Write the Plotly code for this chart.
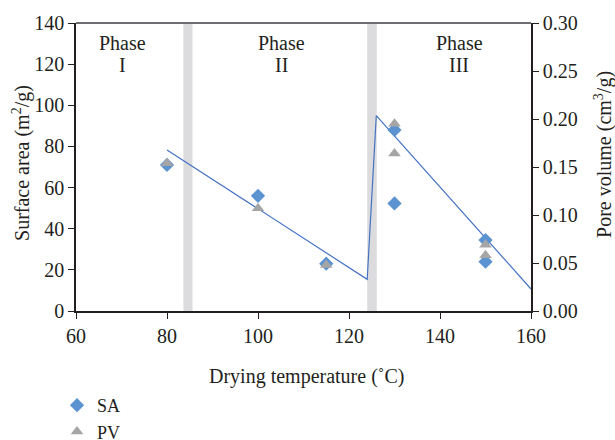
import plotly.graph_objects as go

# Data
sa_x = [80, 100, 115, 130, 130, 150, 150]
sa_y = [71, 56, 23, 52.3, 88, 34.5, 24]
pv_x = [80, 100, 115, 130, 130, 150, 150]
pv_y = [0.154, 0.107, 0.048, 0.195, 0.164, 0.069, 0.058]
trend_x = [80, 124, 126, 160]
trend_y = [78.3, 15.4, 95, 10.7]
band_ranges = [(83.6, 85.6), (124.0, 126.1)]
phase_numerals = ["I", "II", "III"]
phase_x = [70.3, 105.2, 144.2]

FONT = "Liberation Serif"
TXT = "#231f20"
FS = 20

fig = go.Figure()
fig.add_trace(go.Scatter(x=trend_x, y=trend_y, mode="lines",
                         line=dict(color="#4472c4", width=1.2),
                         showlegend=False, hoverinfo="skip"))
fig.add_trace(go.Scatter(x=sa_x, y=sa_y, mode="markers", name="SA",
                         marker=dict(symbol="diamond", size=11, color="#5b93d1")))
fig.add_trace(go.Scatter(x=pv_x, y=pv_y, mode="markers", name="PV", yaxis="y2",
                         marker=dict(symbol="triangle-up", size=11, color="#a5a5a5")))

shapes = []
for a, b in band_ranges:
    shapes.append(dict(type="rect", xref="x", yref="paper", x0=a, x1=b, y0=0, y1=1,
                       fillcolor="#dcdcde", line=dict(width=0), layer="below"))
shapes.append(dict(type="line", xref="paper", yref="paper", x0=0, x1=1, y0=1, y1=1,
                   line=dict(color="#6d6e71", width=2)))

font = dict(family=FONT, size=FS, color=TXT)
annotations = []
for num, px in zip(phase_numerals, phase_x):
    annotations.append(dict(x=px, y=0.9306, xref="x", yref="paper", yanchor="middle",
                            text="Phase", showarrow=False, font=font))
    annotations.append(dict(x=px, y=0.854, xref="x", yref="paper", yanchor="middle",
                            text=num, showarrow=False, font=font))
# axis titles
annotations.append(dict(x=-0.1187, y=0.514, xref="paper", yref="paper",
                        xanchor="center", yanchor="middle", textangle=-90,
                        text="Surface area (m<sup>2</sup>/g)", showarrow=False, font=font))
annotations.append(dict(x=1.158, y=0.545, xref="paper", yref="paper",
                        xanchor="center", yanchor="middle", textangle=-90,
                        text="Pore volume (cm<sup>3</sup>/g)", showarrow=False, font=font))
annotations.append(dict(x=0.5055, y=-0.229, xref="paper", yref="paper",
                        xanchor="center", yanchor="middle",
                        text="Drying temperature (˚C)", showarrow=False, font=font))

axis_common = dict(showgrid=False, zeroline=False, ticks="outside", ticklen=6,
                   tickcolor="#231f20", linecolor="#231f20", linewidth=1.5,
                   showline=True, automargin=False, tickfont=font)

fig.update_layout(
    width=615, height=440,
    margin=dict(l=76, r=84, t=23, b=129, autoexpand=False),
    paper_bgcolor="white", plot_bgcolor="white",
    xaxis=dict(range=[60, 160], dtick=20, **axis_common),
    yaxis=dict(range=[0, 140], dtick=20, **axis_common),
    yaxis2=dict(range=[0, 0.30], dtick=0.05, tickformat=".2f", overlaying="y",
                side="right", **axis_common),
    legend=dict(x=0.0927, y=0.1205, xref="container", yref="container",
                xanchor="left", yanchor="top",
                font=dict(family=FONT, size=18, color=TXT),
                bgcolor="rgba(0,0,0,0)", tracegroupgap=0, itemwidth=30),
    shapes=shapes, annotations=annotations,
)

fig.write_html("out.html",
               config={"displayModeBar": False},
               post_script="document.body.style.margin='0';"
                           "document.body.style.overflow='hidden';")
